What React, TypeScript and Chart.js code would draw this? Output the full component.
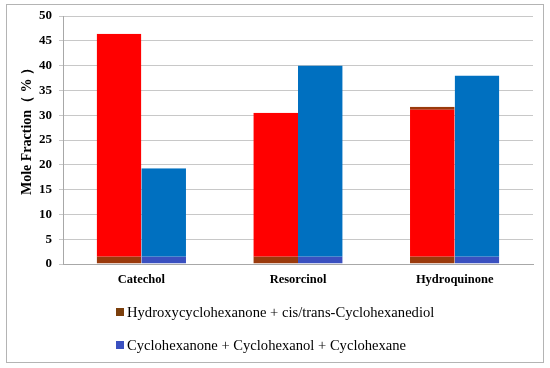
import React, { useEffect, useRef } from "react";
import { Chart, registerables } from "chart.js";

Chart.register(...registerables);

const categories = ["Catechol", "Resorcinol", "Hydroquinone"];
const hydroxyValues = [46.4, 30.5, 31.7];
const cycloValues = [19.3, 40.0, 38.0];
const seriesNames = [
  "Hydroxycyclohexanone + cis/trans-Cyclohexanediol",
  "Cyclohexanone + Cyclohexanol + Cyclohexane",
];
const yTitle = "Mole Fraction（ % ）";

const FONT = "'Liberation Serif', 'Times New Roman', serif";

export default function App() {
  const ref = useRef<HTMLCanvasElement | null>(null);
  useEffect(() => {
    document.body.style.margin = "0";
    const canvas = ref.current!;
    const framePlugin = {
      id: "frame",
      afterDraw(chart: any) {
        const ctx = chart.ctx;
        ctx.save();
        ctx.strokeStyle = "#b4b4b4";
        ctx.lineWidth = 1;
        ctx.strokeRect(6.5, 4.5, 537, 358);
        // y-axis title
        ctx.save();
        ctx.translate(27, 128);
        ctx.rotate(-Math.PI / 2);
        ctx.font = `bold 14px ${FONT}`;
        ctx.fillStyle = "#000";
        ctx.textAlign = "center";
        ctx.textBaseline = "middle";
        ctx.fillText(yTitle, 0, 0);
        ctx.restore();
        // legend
        const swatches = ["#7b3f0c", "#3a50c0"];
        const ys = [312, 345];
        ctx.font = `14.6px ${FONT}`;
        ctx.textBaseline = "middle";
        for (let i = 0; i < 2; i++) {
          ctx.fillStyle = swatches[i];
          ctx.fillRect(116, ys[i] - 4, 8, 8);
          ctx.fillStyle = "#000";
          ctx.fillText(seriesNames[i], 127, ys[i] + 1);
        }
        ctx.restore();
      },
    };
    const chart = new Chart(canvas, {
      type: "bar",
      data: {
        labels: categories,
        datasets: [
          {
            label: seriesNames[0],
            data: hydroxyValues,
            backgroundColor: "#ff0000",
            borderColor: "#9a3a0c",
            borderWidth: (c: any) => ({ top: c.dataIndex === 2 ? 3 : 0, left: 0, right: 0, bottom: 7 }),
            borderSkipped: false,
          },
          {
            label: seriesNames[1],
            data: cycloValues,
            backgroundColor: "#0070c0",
            borderColor: "#3a50c0",
            borderWidth: { top: 0, left: 0, right: 0, bottom: 7 },
            borderSkipped: false,
          },
        ],
      },
      options: {
        animation: false,
        responsive: false,
        devicePixelRatio: 1,
        layout: { padding: { left: 13, top: 16, right: 17, bottom: 0 } },
        plugins: { legend: { display: false }, tooltip: { enabled: false } },
        datasets: { bar: { categoryPercentage: 0.57, barPercentage: 1 } },
        scales: {
          x: {
            grid: { display: false, drawTicks: false },
            border: { color: "#a8a8a8" },
            ticks: {
              color: "#000",
              font: { family: FONT, size: 12.5, weight: "bold" },
              padding: 8,
            },
            afterFit(s: any) {
              s.height = 104;
            },
          },
          y: {
            min: 0,
            max: 50,
            ticks: {
              stepSize: 5,
              color: "#000",
              font: { family: FONT, size: 13, weight: "bold" },
              padding: 7,
            },
            grid: { color: "#c8c8c8", tickLength: 4 },
            border: { color: "#a8a8a8" },
            afterFit(s: any) {
              s.width = 50;
            },
          },
        },
      },
      plugins: [framePlugin],
    } as any);
    return () => chart.destroy();
  }, []);
  return (
    <div style={{ width: 550, height: 368 }}>
      <canvas ref={ref} width={550} height={368} style={{ display: "block" }} />
    </div>
  );
}
